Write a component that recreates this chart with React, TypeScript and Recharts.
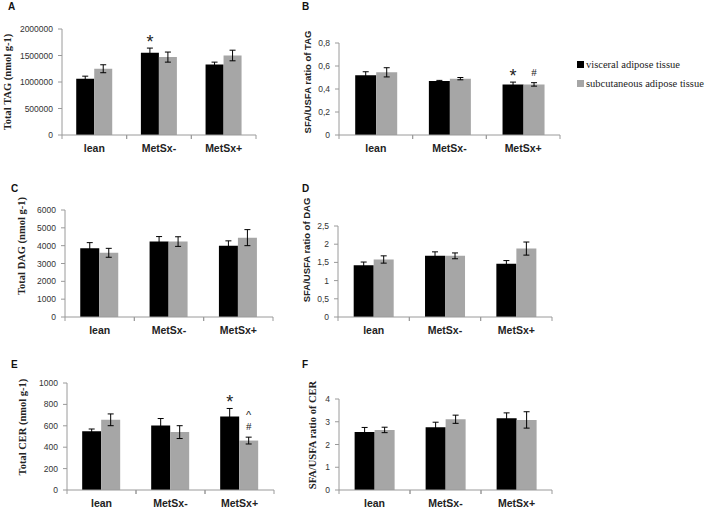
import React from 'react';
import { BarChart, Bar, XAxis, YAxis, ErrorBar, LabelList } from 'recharts';

const groups = ['lean', 'MetSx-', 'MetSx+'];

// A - total TAG
const tagVis = [1060000, 1550000, 1330000];
const tagVisErr = [50000, 90000, 45000];
const tagSub = [1250000, 1470000, 1500000];
const tagSubErr = [75000, 95000, 100000];
const tagTicks = [0, 500000, 1000000, 1500000, 2000000];

// B - SFA/USFA TAG
const sfaTagVis = [0.52, 0.47, 0.44];
const sfaTagVisErr = [0.03, 0.005, 0.02];
const sfaTagSub = [0.545, 0.49, 0.44];
const sfaTagSubErr = [0.04, 0.01, 0.015];
const sfaTagTicks = [0, 0.2, 0.4, 0.6, 0.8];

// C - total DAG
const dagVis = [3850, 4230, 4000];
const dagVisErr = [320, 280, 270];
const dagSub = [3600, 4230, 4450];
const dagSubErr = [250, 270, 450];
const dagTicks = [0, 1000, 2000, 3000, 4000, 5000, 6000];

// D - SFA/USFA DAG
const sfaDagVis = [1.42, 1.68, 1.46];
const sfaDagVisErr = [0.09, 0.11, 0.09];
const sfaDagSub = [1.58, 1.68, 1.88];
const sfaDagSubErr = [0.1, 0.08, 0.18];
const sfaDagTicks = [0, 0.5, 1, 1.5, 2, 2.5];

// E - total CER
const cerVis = [550, 603, 687];
const cerVisErr = [20, 65, 75];
const cerSub = [656, 541, 462];
const cerSubErr = [55, 60, 32];
const cerTicks = [0, 200, 400, 600, 800, 1000];

// F - SFA/USFA CER
const sfaCerVis = [2.55, 2.76, 3.15];
const sfaCerVisErr = [0.2, 0.22, 0.24];
const sfaCerSub = [2.64, 3.11, 3.08];
const sfaCerSubErr = [0.12, 0.18, 0.36];
const sfaCerTicks = [0, 1, 2, 3, 4];

// significance marks (bottom to top)
const noMarks: string[][] = [[], [], []];
const tagVisMarks = [[], ['*'], []];
const sfaTagVisMarks = [[], [], ['*']];
const sfaTagSubMarks = [[], [], ['#']];
const cerVisMarks = [[], [], ['*']];
const cerSubMarks = [[], [], ['#', '^']];

const SANS = '"Liberation Sans", Arial, sans-serif';
const SERIF = '"Liberation Serif", "Times New Roman", serif';
const GRAY = '#a6a6a6';
const AXIS = '#9a9a9a';

const markStyle: Record<string, { font: string; size: number; lift: number }> = {
  '*': { font: SANS, size: 18, lift: 0.58 },
  '#': { font: SERIF, size: 11, lift: 0.35 },
  '^': { font: SANS, size: 11, lift: 0.55 },
};

const makeMarks = (values: number[], errs: number[], marks: string[][]) => (props: any) => {
  const { x, y, width, height, index } = props;
  const list = marks[index] || [];
  if (!list.length) return null;
  const errPx = (errs[index] / values[index]) * height;
  const cx = x + width / 2;
  return (
    <g>
      {list.map((m, i) => {
        const st = markStyle[m];
        const center = y - errPx - 11 - 13 * i;
        return (
          <text key={i} x={cx} y={center + st.lift * st.size} textAnchor="middle"
            fontFamily={st.font} fontSize={st.size} fill="#222">
            {m}
          </text>
        );
      })}
    </g>
  );
};

const CategoryTick = (props: any) => {
  const { x, y, payload, width, visibleTicksCount } = props;
  const band = width / (visibleTicksCount || 3);
  return (
    <g>
      <line x1={x - band / 2} y1={y} x2={x - band / 2} y2={y + 4} stroke={AXIS} />
      <line x1={x + band / 2} y1={y} x2={x + band / 2} y2={y + 4} stroke={AXIS} />
      <text x={x} y={y + 17} textAnchor="middle" fontFamily={SANS} fontSize={10.5}
        fontWeight="bold" fill="#222">
        {payload.value}
      </text>
    </g>
  );
};

const comma = (v: number) => String(v).replace('.', ',');

type PanelProps = {
  left: number; right: number; top: number; bottom: number;
  vis: number[]; visErr: number[]; sub: number[]; subErr: number[];
  ticks: number[]; fmt?: (v: number) => string;
  visMarks?: string[][]; subMarks?: string[][];
};

const Panel = ({ left, right, top, bottom, vis, visErr, sub, subErr, ticks, fmt, visMarks = noMarks, subMarks = noMarks }: PanelProps) => {
  const axisW = 56;
  const rows = groups.map((g, i) => ({
    group: g, vis: vis[i], visErr: visErr[i], sub: sub[i], subErr: subErr[i],
  }));
  return (
    <div style={{ position: 'absolute', left: left - axisW, top: top - 10 }}>
      <BarChart width={right - left + axisW + 6} height={bottom - top + 40} data={rows}
        margin={{ top: 10, right: 6, left: 0, bottom: 0 }} barCategoryGap="22%" barGap={0}>
        <XAxis dataKey="group" height={30} stroke={AXIS} tickLine={false}
          tickSize={0} tickMargin={0} tick={<CategoryTick />} interval={0} />
        <YAxis width={axisW} domain={[0, ticks[ticks.length - 1]]} ticks={ticks}
          interval={0} stroke={AXIS} tickSize={4} tickMargin={5}
          tickFormatter={fmt || ((v: number) => String(v))}
          tick={{ fill: '#333', fontSize: 8.5, fontFamily: SANS }} />
        <Bar dataKey="vis" fill="#000" isAnimationActive={false}>
          <ErrorBar dataKey="visErr" width={3} stroke="#000" strokeWidth={1} direction="y" />
          <LabelList dataKey="vis" content={makeMarks(vis, visErr, visMarks)} />
        </Bar>
        <Bar dataKey="sub" fill={GRAY} isAnimationActive={false}>
          <ErrorBar dataKey="subErr" width={3} stroke="#000" strokeWidth={1} direction="y" />
          <LabelList dataKey="sub" content={makeMarks(sub, subErr, subMarks)} />
        </Bar>
      </BarChart>
    </div>
  );
};

const yLabels = [
  { text: 'Total TAG (nmol g-1)', x: 11, y: 82, font: SERIF, size: 10.5 },
  { text: 'SFA/USFA ratio of TAG', x: 311, y: 82, font: SANS, size: 9.5 },
  { text: 'Total DAG (nmol g-1)', x: 25, y: 246, font: SERIF, size: 10.5 },
  { text: 'SFA/USFA ratio of DAG', x: 310, y: 250, font: SANS, size: 9.5 },
  { text: 'Total CER (nmol g-1)', x: 26, y: 427, font: SERIF, size: 10.5 },
  { text: 'SFA/USFA ratio of CER', x: 316, y: 435, font: SERIF, size: 10.5 },
];

const letters = [
  { t: 'A', x: 8, y: 10 }, { t: 'B', x: 302, y: 10 },
  { t: 'C', x: 11, y: 192 }, { t: 'D', x: 302, y: 192 },
  { t: 'E', x: 11, y: 368 }, { t: 'F', x: 302, y: 368 },
];

const legendItems = [
  { name: 'visceral adipose tissue', color: '#000' },
  { name: 'subcutaneous adipose tissue', color: GRAY },
];

export default function App() {
  return (
    <div style={{ position: 'absolute', left: 0, top: 0, width: 709, height: 510, background: '#fff', overflow: 'hidden' }}>
      <Panel left={62} right={256} top={29} bottom={135} vis={tagVis} visErr={tagVisErr}
        sub={tagSub} subErr={tagSubErr} ticks={tagTicks} visMarks={tagVisMarks} />
      <Panel left={339} right={560} top={43} bottom={135} vis={sfaTagVis} visErr={sfaTagVisErr}
        sub={sfaTagSub} subErr={sfaTagSubErr} ticks={sfaTagTicks} fmt={comma}
        visMarks={sfaTagVisMarks} subMarks={sfaTagSubMarks} />
      <Panel left={65} right={273} top={210} bottom={317} vis={dagVis} visErr={dagVisErr}
        sub={dagSub} subErr={dagSubErr} ticks={dagTicks} />
      <Panel left={338} right={552} top={226} bottom={317} vis={sfaDagVis} visErr={sfaDagVisErr}
        sub={sfaDagSub} subErr={sfaDagSubErr} ticks={sfaDagTicks} fmt={comma} />
      <Panel left={67} right={274} top={383} bottom={490} vis={cerVis} visErr={cerVisErr}
        sub={cerSub} subErr={cerSubErr} ticks={cerTicks} visMarks={cerVisMarks} subMarks={cerSubMarks} />
      <Panel left={339} right={552} top={399} bottom={490} vis={sfaCerVis} visErr={sfaCerVisErr}
        sub={sfaCerSub} subErr={sfaCerSubErr} ticks={sfaCerTicks} />

      <svg width={709} height={510} style={{ position: 'absolute', left: 0, top: 0, pointerEvents: 'none' }}>
        {letters.map((l) => (
          <text key={l.t} x={l.x} y={l.y} fontFamily={SANS} fontWeight="bold" fontSize={10} fill="#111">{l.t}</text>
        ))}
        {yLabels.map((l) => (
          <text key={l.text} transform={`translate(${l.x},${l.y}) rotate(-90)`} textAnchor="middle"
            fontFamily={l.font} fontWeight="bold" fontSize={l.size} fill="#222">
            {l.text}
          </text>
        ))}
        {legendItems.map((it, i) => (
          <g key={it.name}>
            <rect x={577} y={61 + i * 19} width={7} height={7} fill={it.color} />
            <text x={586} y={68 + i * 19} fontFamily={SERIF} fontSize={10.5} fill="#222">{it.name}</text>
          </g>
        ))}
      </svg>
    </div>
  );
}
